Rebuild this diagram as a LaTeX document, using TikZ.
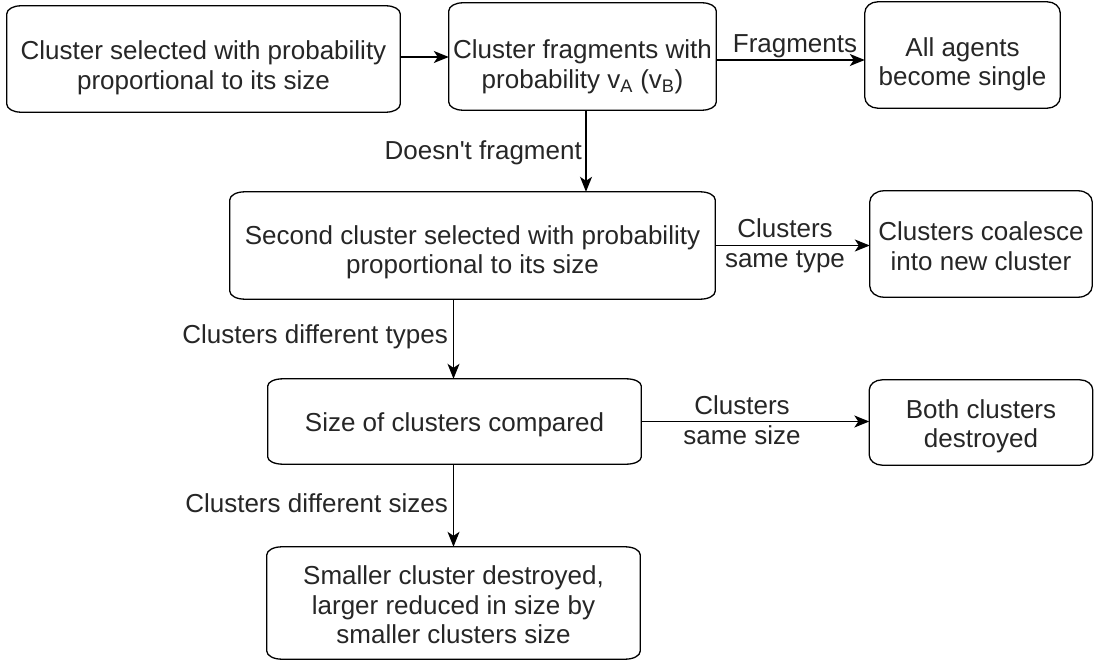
\documentclass[tikz,border=0pt]{standalone}
\usepackage{fontspec}
\setmainfont{Liberation Sans}[Ligatures=TeXOff]
\usetikzlibrary{arrows.meta}
\newcommand\ebox[3]{%
  \draw[boxline] ([xshift=#2]#1.north west) -- ([xshift=-#2]#1.north east)
    arc[start angle=90,end angle=0,x radius=#2,y radius=#3]
    -- ([yshift=#3]#1.south east)
    arc[start angle=0,end angle=-90,x radius=#2,y radius=#3]
    -- ([xshift=#2]#1.south west)
    arc[start angle=270,end angle=180,x radius=#2,y radius=#3]
    -- ([yshift=-#3]#1.north west)
    arc[start angle=180,end angle=90,x radius=#2,y radius=#3] -- cycle;}
\newcommand\tx[2]{\raisebox{-#1}[\height][\depth]{\begin{tabular}{@{}c@{}}#2\end{tabular}}}
\tikzset{
  boxline/.style={draw=black, line width=1.3pt},
  box/.style={inner sep=0pt, font=\fontsize{26}{29.5}\selectfont, text=black!85},
  lbl/.style={inner sep=0pt, font=\fontsize{26}{30}\selectfont, text=black!85},
  arr/.style={draw=black, line width=1.3pt, -{Stealth[length=15pt,width=12pt,inset=4pt]}}
}
\begin{document}
\begin{tikzpicture}[x=1pt,y=-1pt]
\useasboundingbox[fill=white] (0,0) rectangle (1094,660);
% boxes
\node[box, minimum width=393pt, minimum height=106pt] (b1) at (203.5,59) {\tx{9.4pt}{Cluster selected with probability\\proportional to its size}};
\node[box, minimum width=267pt, minimum height=107pt] (b2) at (582.5,56.5) {\tx{11pt}{Cluster fragments with\\probability v\textsubscript{A} (v\textsubscript{B})}};
\node[box, minimum width=195pt, minimum height=106pt] (b3) at (962.5,55) {\tx{10pt}{All agents\\become single}};
\node[box, minimum width=485pt, minimum height=107pt] (b4) at (472.5,245.5) {\tx{7.4pt}{Second cluster selected with probability\\proportional to its size}};
\node[box, minimum width=222pt, minimum height=106pt] (b5) at (981,244) {\tx{5.4pt}{Clusters coalesce\\into new cluster}};
\node[box, minimum width=373pt, minimum height=85pt] (b6) at (454.5,421.5) {\tx{4.4pt}{Size of clusters compared}};
\node[box, minimum width=223pt, minimum height=85pt] (b7) at (981,422.5) {\tx{4.4pt}{Both clusters\\destroyed}};
\node[box, minimum width=373pt, minimum height=112pt] (b8) at (453.5,603) {\tx{5.4pt}{Smaller cluster destroyed,\\larger reduced in size by\\smaller clusters size}};
\ebox{b1}{14pt}{8pt}
\ebox{b2}{14pt}{8pt}
\ebox{b3}{13pt}{11pt}
\ebox{b4}{15pt}{8pt}
\ebox{b5}{14pt}{11pt}
\ebox{b6}{15pt}{7pt}
\ebox{b7}{13pt}{10pt}
\ebox{b8}{15pt}{8pt}
% connectors
\draw[arr] ([yshift=2pt]b1.east) -- ([yshift=2pt]b1.east -| b2.west);
\draw[arr] ([yshift=-3.5pt]b2.east) -- ([yshift=-3.5pt]b2.east -| b3.west);
\draw[arr] ([xshift=3.5pt]b2.south) -- ([xshift=3.5pt]b2.south |- b4.north);
\draw[arr] (b4.east) -- (b4.east -| b5.west);
\draw[arr] ([xshift=-1pt]b6.north |- b4.south) -- ([xshift=-1pt]b6.north);
\draw[arr] (b6.east) -- (b6.east -| b7.west);
\draw[arr] ([xshift=-1pt]b6.south) -- ([xshift=-1pt]b6.south |- b8.north);
% labels
\node[lbl, anchor=base] (l1) at (795,53) {Fragments};
\node[lbl, anchor=base east] (l2) at (582,160) {Doesn't fragment};
\node[lbl, anchor=base] (l3) at (785,238) {\begin{tabular}[t]{@{}c@{}}Clusters\\same type\end{tabular}};
\node[lbl, anchor=base east] (l4) at (448,343) {Clusters different types};
\node[lbl, anchor=base] (l5) at (742,414.5) {\begin{tabular}[t]{@{}c@{}}Clusters\\same size\end{tabular}};
\node[lbl, anchor=base east] (l6) at (448,512) {Clusters different sizes};
\end{tikzpicture}
\end{document}
